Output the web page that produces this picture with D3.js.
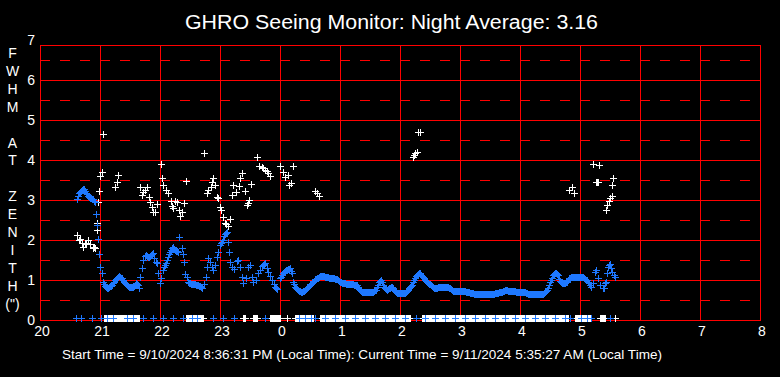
<!DOCTYPE html>
<html><head><meta charset="utf-8">
<script src="https://cdn.jsdelivr.net/npm/d3@7"></script>
<style>html,body{margin:0;padding:0;background:#000;overflow:hidden}</style>
</head><body><svg id="c" width="780" height="377"></svg>
<script>
// ---------- DATA ----------
const title = "GHRO Seeing Monitor: Night Average: 3.16";
const footer = "Start Time = 9/10/2024 8:36:31 PM (Local Time):  Current Time = 9/11/2024 5:35:27 AM (Local Time)";
const yTitleLetters = ["F","W","H","M","","A","T","","Z","E","N","I","T","H","(\")"];
const xTickHours = [20,21,22,23,24,25,26,27,28,29,30,31,32];
const yTickValues = [0,1,2,3,4,5,6,7];
const yHalfValues = [0.5,1.5,2.5,3.5,4.5,5.5,6.5];

// Blue series: one reading per minute starting at blueStart (null = no reading)
const blueStart = "20:37";
const blueValues = [
  3.02,3.10,3.17,
  3.20,3.23,3.25,3.27,3.27,3.22,3.18,3.14,3.10,3.08,
  3.06,3.06,3.03,3.02,2.98,2.96,2.65,2.37,2.02,1.64,
  1.32,null,1.17,0.96,0.90,0.85,0.82,0.79,0.80,0.83,
  0.85,0.86,0.88,0.92,0.96,0.99,1.02,1.04,1.08,1.10,
  1.08,1.06,1.04,1.00,0.96,0.92,0.90,0.88,0.85,0.83,
  0.82,0.82,0.83,0.82,0.85,0.88,0.92,0.90,0.88,0.79,
  1.08,null,1.29,1.50,null,1.60,1.63,1.60,1.57,1.58,
  1.60,1.62,1.65,1.68,1.54,null,1.45,1.42,1.17,null,
  0.92,1.04,null,1.25,1.33,1.38,1.42,1.50,1.58,1.65,
  1.70,1.75,1.80,1.83,1.78,1.75,1.73,1.72,1.71,2.08,
  null,null,1.79,1.65,1.46,1.15,null,1.08,0.96,0.93,
  0.92,0.90,0.90,0.90,0.90,0.90,0.88,0.88,0.88,0.86,
  0.85,0.83,0.79,null,0.90,null,1.08,1.33,1.54,null,
  1.46,null,1.33,1.25,null,1.38,null,1.58,1.71,null,
  1.88,1.92,1.96,2.00,2.10,2.14,2.17,2.21,1.96,1.71,
  1.46,null,1.33,null,1.27,null,null,1.48,1.50,null,
  1.33,null,1.08,0.92,null,null,1.04,null,1.33,null,
  1.38,null,1.08,0.96,null,null,1.00,null,1.17,null,
  1.25,null,1.35,1.38,1.40,1.42,null,1.30,1.21,null,
  1.10,null,1.00,null,0.90,0.83,0.80,0.77,null,null,
  1.04,1.08,1.12,1.17,1.20,1.22,1.24,1.25,1.27,1.28,
  1.29,1.22,1.17,0.96,0.90,0.83,0.80,0.77,0.75,0.73,
  0.72,0.71,0.71,0.72,0.73,0.75,0.77,0.80,0.83,0.86,
  0.89,0.90,0.92,0.95,0.98,1.02,1.03,1.05,1.06,1.08,
  1.09,1.10,1.10,1.10,1.09,1.08,1.08,1.07,1.07,1.06,
  1.06,1.05,1.05,1.04,1.04,1.03,1.02,1.02,1.00,0.98,
  0.96,0.94,0.93,0.92,0.92,0.92,0.91,0.91,0.90,0.90,
  0.90,0.90,0.90,0.89,0.88,0.88,0.88,0.88,0.82,0.78,
  0.75,0.73,0.71,0.70,0.69,0.69,0.69,0.69,0.69,0.69,
  0.69,0.69,0.69,0.70,0.72,0.74,0.75,0.82,0.88,0.94,
  0.98,1.00,0.94,0.88,0.83,0.79,0.77,0.75,0.77,0.79,
  0.80,0.82,0.83,0.79,0.75,0.72,0.69,0.67,0.67,0.67,
  0.67,0.67,0.68,0.68,0.68,0.68,0.70,0.72,0.75,0.79,
  0.83,0.85,0.88,0.94,1.00,1.05,1.10,1.13,1.15,1.17,
  1.17,1.12,1.10,1.08,1.04,1.00,0.98,0.95,0.93,0.91,
  0.89,0.87,0.85,0.83,0.81,0.80,0.80,0.81,0.82,0.82,
  0.82,0.82,0.82,0.82,0.82,0.82,0.82,0.82,0.82,0.80,
  0.79,0.77,0.75,0.73,0.73,0.73,0.73,0.73,0.73,0.73,
  0.73,0.73,0.73,0.73,0.72,0.72,0.71,0.70,0.70,0.69,
  0.68,0.68,0.67,0.67,0.66,0.66,0.65,0.65,0.65,0.65,
  0.65,0.65,0.64,0.64,0.64,0.64,0.64,0.64,0.65,0.65,
  0.65,0.65,0.65,0.66,0.66,0.67,0.67,0.67,0.68,0.69,
  0.70,0.71,0.71,0.72,0.73,0.74,0.75,0.74,0.73,0.73,
  0.73,0.73,0.73,0.73,0.72,0.72,0.71,0.71,0.71,0.71,
  0.71,0.70,0.70,0.70,0.69,0.69,0.68,0.67,0.66,0.65,
  0.65,0.65,0.65,0.64,0.64,0.64,0.64,0.64,0.65,0.65,
  0.65,0.65,0.65,0.66,0.67,0.70,0.72,0.75,0.81,0.88,
  0.94,1.00,1.06,1.13,1.15,1.17,1.18,1.15,1.13,1.02,
  0.98,0.95,0.93,0.92,0.92,0.93,0.95,0.96,1.00,1.04,
  1.06,1.07,1.08,1.08,1.07,1.07,1.07,1.07,1.07,1.07,
  1.07,1.07,1.07,1.07,1.05,1.03,1.01,1.00,0.96,0.92,
  0.87,0.83,null,0.92,null,1.21,1.25,null,1.04,null,
  0.88,null,null,0.79,0.80,0.92,0.96,1.17,1.33,1.38,
  1.39,1.30,1.21,null,1.12,1.08
];

// White series: [time, FWHM]
const whitePoints = [
  ["20:37",2.13],["20:39",2.00],["20:40",2.02],["20:42",1.92],["20:43",1.83],["20:45",1.90],
  ["20:46",1.92],["20:48",2.00],["20:50",1.90],["20:53",1.80],["20:54",1.82],["20:55",1.79],
  ["20:57",2.25],["20:57",2.43],["20:58",2.94],["20:59",3.23],["21:00",3.61],["21:02",3.69],
  ["21:03",4.64],["21:15",3.33],["21:17",3.46],["21:18",3.63],
  ["21:40",3.33],["21:42",3.13],["21:43",3.21],["21:45",3.25],["21:47",3.33],["21:49",3.08],
  ["21:50",2.96],["21:52",2.83],["21:53",2.70],["21:55",2.71],["21:57",2.90],
  ["22:01",3.90],["22:02",3.56],["22:03",3.38],["22:06",3.25],["22:08",3.18],["22:11",2.98],
  ["22:12",2.85],["22:13",2.80],["22:15",2.98],["22:17",2.95],["22:19",2.75],["22:20",2.60],
  ["22:22",2.71],["22:24",2.92],["22:26",3.48],
  ["22:44",4.17],["22:47",3.17],["22:48",3.25],["22:51",3.32],["22:52",3.46],["22:53",3.54],
  ["22:55",3.38],["22:57",3.08],["22:58",3.05],["23:00",2.83],["23:01",2.75],["23:03",2.57],
  ["23:05",2.42],["23:06",2.40],["23:08",2.35],["23:10",2.52],
  ["23:12",3.13],["23:13",3.38],["23:16",3.21],["23:19",3.35],["23:20",3.54],["23:22",3.68],
  ["23:25",3.23],["23:27",2.88],["23:28",2.93],["23:29",3.00],["23:31",3.40],
  ["23:37",4.08],["23:39",3.85],["23:42",3.82],["23:43",3.80],["23:45",3.75],["23:47",3.72],
  ["23:48",3.68],["23:50",3.60],
  ["00:00",3.85],["00:03",3.71],["00:05",3.58],["00:08",3.63],["00:09",3.38],["00:11",3.43],
  ["00:13",3.85],["00:35",3.23],["00:37",3.18],["00:39",3.11],
  ["02:13",4.08],["02:14",4.12],["02:15",4.17],["02:17",4.21],["02:18",4.71],["02:20",4.71],
  ["04:49",3.25],["04:52",3.33],["04:54",3.17],
  ["05:13",3.89],["05:19",3.87],["05:16",3.44],["05:17",3.45],["05:18",3.44],
  ["05:26",2.75],["05:27",2.88],["05:29",2.98],["05:30",3.05],["05:32",3.11],["05:32",3.37],["05:33",3.54]
];

// Readings of zero (no measurement), drawn on the baseline
const zeroValue = 0.05;
const whiteZeroSpans = [
  ["21:04","21:17"],["21:18","21:22"],["21:23","21:39"],["22:26","22:43"],["23:23","23:25"],
  ["23:33","23:37"],["23:50","00:00"],["00:07","00:07"],["00:15","00:33"],["00:40","02:10"],
  ["02:22","04:48"],["04:55","05:10"],["05:20","05:25"],["05:35","05:35"]
];
const blueZeroTimes = ["20:36","20:41","20:52","21:01","21:07","21:13","21:27","21:33","21:43","21:53",
  "22:03","22:13","22:23","22:32","22:37","22:53","23:03","23:14","23:45","00:19","00:25","00:31",
  "00:35","00:45","00:55","01:05","01:15","01:25","01:35","01:45","01:55","02:05","02:16",
  "02:25","02:35","02:45","02:55","03:05","03:15","03:25","03:35","03:45","03:55","04:05",
  "04:15","04:25","04:35","04:45","04:50","05:01","05:07","05:11","05:30"];

// ---------- CHART ----------
const W = 780, H = 377;
const svg = d3.select("#c");
svg.append("rect").attr("width", W).attr("height", H).attr("fill", "#000");

const toHour = s => { const p = s.split(":").map(Number); let h = p[0] + p[1]/60; if (p[0] < 12) h += 24; return h; };

const x = d3.scaleLinear().domain([20, 32]).range([40, 760]);
const y = d3.scaleLinear().domain([0, 7]).range([320, 40]);
const plotTop = 45;
const RED = "#ff0000", BLUE = "#1e78ff", WHITE = "#ffffff";
const px = v => Math.round(v) + 0.5;

const grid = svg.append("g").attr("shape-rendering", "crispEdges");
grid.selectAll("line.half").data(yHalfValues).join("line")
  .attr("x1", x(20)).attr("x2", x(32))
  .attr("y1", d => px(y(d))).attr("y2", d => px(y(d)))
  .attr("stroke", RED).attr("stroke-width", 1).attr("stroke-dasharray", "10,10");
grid.selectAll("line.full").data(yTickValues.filter(v => v > 0 && v < 7)).join("line")
  .attr("x1", x(20)).attr("x2", x(32))
  .attr("y1", d => px(y(d))).attr("y2", d => px(y(d)))
  .attr("stroke", RED).attr("stroke-width", 1);
grid.selectAll("line.v").data(xTickHours).join("line")
  .attr("x1", d => px(x(d))).attr("x2", d => px(x(d)))
  .attr("y1", plotTop).attr("y2", y(0) + 1)
  .attr("stroke", RED).attr("stroke-width", 1);
grid.append("line").attr("x1", x(20)).attr("x2", x(32) + 1).attr("y1", plotTop + 0.5).attr("y2", plotTop + 0.5).attr("stroke", RED);
grid.append("line").attr("x1", x(20)).attr("x2", x(32) + 1).attr("y1", px(y(0))).attr("y2", px(y(0))).attr("stroke", RED);

// markers
const crossPath = (cx, cy) => {
  const X = Math.round(cx), Y = Math.round(cy);
  return `M${X-3},${Y+0.5}h7M${X+0.5},${Y-3}v7`;
};
const marks = svg.append("g").attr("shape-rendering", "crispEdges").attr("fill", "none");

const whiteData = whitePoints.map(d => ({t: toHour(d[0]), v: d[1]}));
const t0 = toHour(blueStart);
const blueData = blueValues.map((v, i) => ({t: t0 + i/60, v})).filter(d => d.v !== null);
const whiteZeroData = [];
whiteZeroSpans.forEach(([a, b]) => { const s = toHour(a), e = toHour(b); for (let t = s; t <= e + 1e-9; t += 1/60) whiteZeroData.push({t, v: zeroValue}); });
const blueZeroData = blueZeroTimes.map(s => ({t: toHour(s), v: zeroValue}));

marks.append("path").attr("stroke", WHITE).attr("stroke-width", 1)
  .attr("d", whiteData.map(d => crossPath(x(d.t), y(d.v))).join(""));
marks.append("path").attr("stroke", BLUE).attr("stroke-width", 1)
  .attr("d", blueData.map(d => crossPath(x(d.t), y(d.v))).join(""));
marks.append("path").attr("stroke", WHITE).attr("stroke-width", 1)
  .attr("d", whiteZeroData.map(d => crossPath(x(d.t), y(d.v))).join(""));
marks.append("path").attr("stroke", BLUE).attr("stroke-width", 1)
  .attr("d", blueZeroData.map(d => crossPath(x(d.t), y(d.v))).join(""));

// texts
const font = "Liberation Sans, Arial, sans-serif";
svg.append("text").attr("x", 185).attr("y", 29)
  .attr("textLength", 413).attr("lengthAdjust", "spacingAndGlyphs")
  .attr("fill", WHITE).attr("font-family", font).attr("font-size", 20).text(title);

svg.append("g").selectAll("text").data(yTickValues).join("text")
  .attr("x", 35).attr("y", d => y(d)).attr("dy", "0.36em").attr("text-anchor", "end")
  .attr("fill", WHITE).attr("font-family", font).attr("font-size", 14).text(d => d);

svg.append("g").selectAll("text").data(xTickHours).join("text")
  .attr("x", d => x(d) + 2).attr("y", 336).attr("text-anchor", "middle")
  .attr("fill", WHITE).attr("font-family", font).attr("font-size", 14).text(d => d % 24);

svg.append("g").selectAll("text").data(yTitleLetters).join("text")
  .attr("x", 12.5).attr("y", (d, i) => 53 + i * 17.9).attr("dy", "0.36em").attr("text-anchor", "middle")
  .attr("fill", WHITE).attr("font-family", font).attr("font-size", 14).text(d => d);

svg.append("text").attr("x", 62).attr("y", 359)
  .attr("textLength", 600).attr("lengthAdjust", "spacingAndGlyphs")
  .attr("fill", WHITE).attr("font-family", font).attr("font-size", 13).text(footer);
</script></body></html>
